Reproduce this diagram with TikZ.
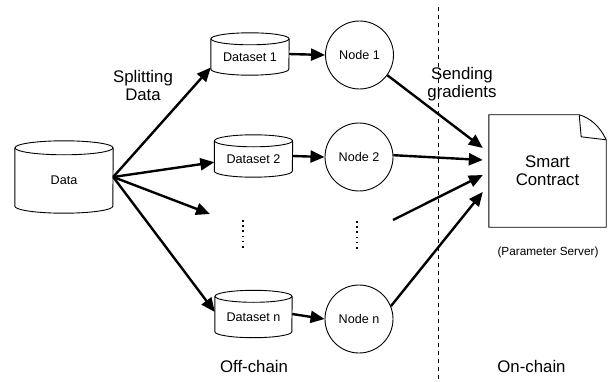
\documentclass[tikz,border=0pt]{standalone}
\usepackage{fontspec}
\setmainfont{Liberation Sans}
\usetikzlibrary{calc,arrows.meta}

% Cylinder drawn around a named rectangular node: name, cx, cy, width, height, cap radius, label
\newcommand\cylnode[7]{%
  \node[minimum width=#4pt, minimum height=#5pt, inner sep=0pt] (#1) at (#2,#3) {};
  \draw[thinline] ($(#1.north west)+(0,-#6)$) -- ($(#1.south west)+(0,#6)$)
    arc[start angle=180, end angle=360, x radius={#4*0.5pt}, y radius=#6pt]
    -- ($(#1.north east)+(0,-#6)$);
  \draw[thinline] ($(#1.north)+(0,-#6)$) ellipse[x radius={#4*0.5pt}, y radius=#6pt];
  \node[smalltext] at ($(#1.center)+(0,{-#6*0.5})$) {#7};
}

\tikzset{
  thinline/.style={line width=0.9pt, draw=black},
  bigtext/.style={font=\fontsize{16.8}{18}\selectfont, align=center, inner sep=0pt},
  smalltext/.style={font=\fontsize{12.6}{14}\selectfont, inner sep=0pt},
  worker/.style={circle, thinline, minimum size=68pt, inner sep=0pt, font=\fontsize{12.6}{14}\selectfont},
  flow/.style={line width=2.4pt, -{Triangle[length=14pt, width=12pt]}},
  dots/.style={line width=1.6pt, dash pattern=on 1.6pt off 3.6pt},
  border/.style={line width=0.9pt, dash pattern=on 4pt off 4pt}
}

\begin{document}
\begin{tikzpicture}[x=1pt, y=1pt]
  \useasboundingbox (0,0) rectangle (616,381);

  % data sources
  \cylnode{data}{64}{204}{98}{72}{7}{Data}
  \cylnode{d1}{250}{327}{78}{42}{6}{Dataset 1}
  \cylnode{d2}{253.5}{225}{78}{42}{6}{Dataset 2}
  \cylnode{dn}{253.5}{67}{77}{47}{6}{Dataset n}

  % workers
  \node[worker] (n1) at (359.5,326) {Node 1};
  \node[worker] (n2) at (359,224) {Node 2};
  \node[worker] (nn) at (359,62) {Node n};

  % smart contract document
  \node[minimum width=117pt, minimum height=112pt, inner sep=0pt, bigtext] (sc) at (547.5,210) {Smart\\Contract};
  \draw[thinline] (sc.south west) -- (sc.south east) -- ($(sc.north east)+(0,-25)$)
    .. controls ($(sc.north east)+(-6,-12)$) and ($(sc.north east)+(-16,-3)$) .. ($(sc.north east)+(-27,0)$)
    -- (sc.north west) -- cycle;
  \draw[thinline] ($(sc.north east)+(-27,0)$) -- ($(sc.north east)+(-25,-22)$) -- ($(sc.north east)+(0,-25)$);
  \node[font=\fontsize{11.8}{13}\selectfont, inner sep=0pt] (ps) at (548,129) {(Parameter Server)};

  % free ends of the middle row
  \coordinate (gapin) at (210,167);
  \coordinate (gapout) at (393,161);
  \coordinate (s1) at ($(sc.west)+(-6,23)$);
  \coordinate (s2) at ($(sc.west)+(-6,11)$);
  \coordinate (s3) at ($(sc.west)+(-6,-4)$);
  \coordinate (s4) at ($(sc.west)+(-6,-21)$);

  % splitting arrows
  \draw[flow] (data.east) -- (d1.199);
  \draw[flow] (data.east) -- (d2.189);
  \draw[flow] (data.east) -- (gapin);
  \draw[flow] (data.east) -- (dn.177);

  % dataset to node
  \draw[flow] (d1.east) -- (n1.west);
  \draw[flow] (d2.east) -- (n2.west);
  \draw[flow] (dn.east) -- (nn.west);

  % sending gradients
  \draw[flow] (n1.-36) -- (s1);
  \draw[flow] (n2.3) -- (s2);
  \draw[flow] (gapout) -- (s3);
  \draw[flow] (nn.22) -- (s4);

  % ellipsis dots
  \coordinate (dl1) at (243,161);
  \coordinate (dl2) at (243,130);
  \coordinate (dr1) at (357,160);
  \coordinate (dr2) at (357,129);
  \draw[dots] (dl1) -- (dl2);
  \draw[dots] (dr1) -- (dr2);

  % chain boundary
  \coordinate (b1) at (438,374);
  \coordinate (b2) at (438,0);
  \draw[border] (b1) -- (b2);

  % labels
  \node[bigtext] (lsplit) at (143,296) {Splitting\\Data};
  \node[bigtext] (lsend) at (462,297) {Sending\\gradients};
  \node[bigtext] (loff) at (254,15) {Off-chain};
  \node[bigtext] (lon) at (531.5,15) {On-chain};
\end{tikzpicture}
\end{document}
